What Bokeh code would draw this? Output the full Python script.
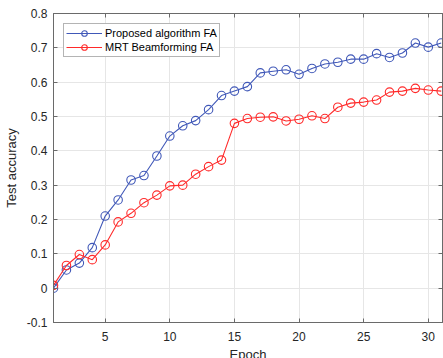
from bokeh.plotting import figure
from bokeh.models import (LinearAxis, Range1d, FixedTicker, Legend, LegendItem,
                          CustomJSTickFormatter)
from bokeh.embed import file_html
from bokeh.resources import INLINE

epochs = list(range(1, 32))
proposed = [0.000, 0.053, 0.073, 0.118, 0.210, 0.257, 0.315, 0.328, 0.385, 0.443,
            0.473, 0.488, 0.520, 0.561, 0.574, 0.587, 0.627, 0.632, 0.636, 0.623,
            0.640, 0.653, 0.658, 0.667, 0.667, 0.683, 0.672, 0.685, 0.714, 0.702, 0.714]
mrt = [0.008, 0.066, 0.098, 0.083, 0.126, 0.193, 0.218, 0.249, 0.271, 0.298,
       0.300, 0.332, 0.354, 0.373, 0.480, 0.494, 0.498, 0.499, 0.487, 0.492,
       0.502, 0.494, 0.527, 0.539, 0.542, 0.548, 0.571, 0.574, 0.582, 0.577, 0.574]
x_ticks = [5, 10, 15, 20, 25, 30]
y_ticks = [-0.1, 0.0, 0.1, 0.2, 0.3, 0.4, 0.5, 0.6, 0.7, 0.8]
y_labels = {-0.1: "-0.1", 0.0: "0", 0.1: "0.1", 0.2: "0.2", 0.3: "0.3", 0.4: "0.4",
            0.5: "0.5", 0.6: "0.6", 0.7: "0.7", 0.8: "0.8"}

BLUE = "#4058B8"
RED = "#FF2A2A"
FONT = "Liberation Sans"
TXT = "#262626"
AX = "#6a6a6a"

p = figure(width=443, height=364, output_backend="svg", toolbar_location=None,
           x_range=Range1d(1, 31.1), y_range=Range1d(-0.1, 0.8),
           min_border_left=50, min_border_right=1, min_border_top=13, min_border_bottom=42,
           x_axis_label="Epoch", y_axis_label="Test accuracy")
p.background_fill_color = "white"
p.border_fill_color = "white"
p.outline_line_color = AX
p.outline_line_width = 1

for ax in (p.xaxis[0], p.yaxis[0]):
    ax.major_tick_in = 4
    ax.major_tick_out = 0
    ax.minor_tick_in = 0
    ax.minor_tick_out = 0
    ax.axis_line_color = AX
    ax.major_tick_line_color = AX
    ax.major_label_text_font = FONT
    ax.major_label_text_font_size = "12px"
    ax.major_label_text_color = TXT
    ax.axis_label_text_font = FONT
    ax.axis_label_text_font_size = "13px"
    ax.axis_label_text_font_style = "normal"
    ax.axis_label_text_color = TXT

p.xaxis.ticker = FixedTicker(ticks=x_ticks)
p.yaxis.ticker = FixedTicker(ticks=y_ticks)
p.yaxis.major_label_overrides = y_labels
p.xaxis.major_label_standoff = 9
p.yaxis.major_label_standoff = 6
p.xaxis.axis_label_standoff = 3
p.yaxis.axis_label_standoff = 5

p.xgrid.ticker = FixedTicker(ticks=x_ticks)
p.ygrid.ticker = FixedTicker(ticks=y_ticks)
p.grid.grid_line_color = "#e6e6e6"
p.grid.grid_line_width = 1

for loc in ("right", "above"):
    a = LinearAxis(ticker=FixedTicker(ticks=y_ticks if loc == "right" else x_ticks),
                   formatter=CustomJSTickFormatter(code="return ''"))
    a.major_tick_in = 4
    a.major_tick_out = 0
    a.minor_tick_in = 0
    a.minor_tick_out = 0
    a.major_label_standoff = 0
    a.axis_line_color = AX
    a.major_tick_line_color = AX
    p.add_layout(a, loc)

l1 = p.line(epochs, proposed, line_color=BLUE, line_width=1.1)
c1 = p.scatter(epochs, proposed, marker="circle", size=8.5, fill_color=None,
               line_color=BLUE, line_width=1.1)
l2 = p.line(epochs, mrt, line_color=RED, line_width=1.1)
c2 = p.scatter(epochs, mrt, marker="circle", size=8.5, fill_color=None,
               line_color=RED, line_width=1.1)

legend = Legend(items=[LegendItem(label="Proposed algorithm FA", renderers=[l1, c1]),
                       LegendItem(label="MRT Beamforming FA", renderers=[l2, c2])],
                location="top_left")
legend.label_text_font = FONT
legend.label_text_font_size = "11px"
legend.label_text_color = "black"
legend.glyph_width = 36
legend.glyph_height = 14
legend.label_height = 14
legend.spacing = 0
legend.padding = 2
legend.margin = 10
legend.label_standoff = 3
legend.border_line_color = AX
legend.border_line_width = 1
legend.background_fill_alpha = 1
p.add_layout(legend)

open("out.html", "w").write(file_html(p, INLINE))
